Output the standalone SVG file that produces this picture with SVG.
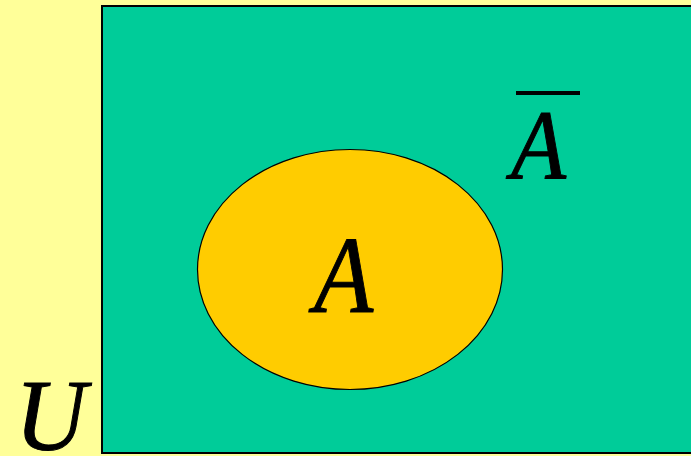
<svg xmlns="http://www.w3.org/2000/svg" width="691" height="456" viewBox="0 0 691 456">
<style>
.lbl{font-family:"Liberation Serif","Times New Roman",serif;font-style:italic;fill:#000;stroke:#000;stroke-width:1}
</style>
<rect x="0" y="0" width="691" height="456" fill="#FFFF99"/>
<g id="universe">
<rect x="102" y="6" width="600" height="447" fill="#00CC99" stroke="#000" stroke-width="2"/>
<text class="lbl" x="0" y="0" font-size="102" transform="translate(15,450) scale(0.97,1)">U</text>
</g>
<g id="complement">
<rect x="516" y="91" width="64" height="4" fill="#000"/>
<text class="lbl" x="0" y="0" font-size="100" transform="translate(511,179) scale(0.9,1)">A</text>
</g>
<g id="setA">
<ellipse cx="350" cy="269.5" rx="152.5" ry="120" fill="#FFCC00" stroke="#000" stroke-width="1.2"/>
<text class="lbl" x="0" y="0" font-size="110" transform="translate(314,311.5) scale(0.88,1)">A</text>
</g>
<g id="connectors"/>
</svg>
